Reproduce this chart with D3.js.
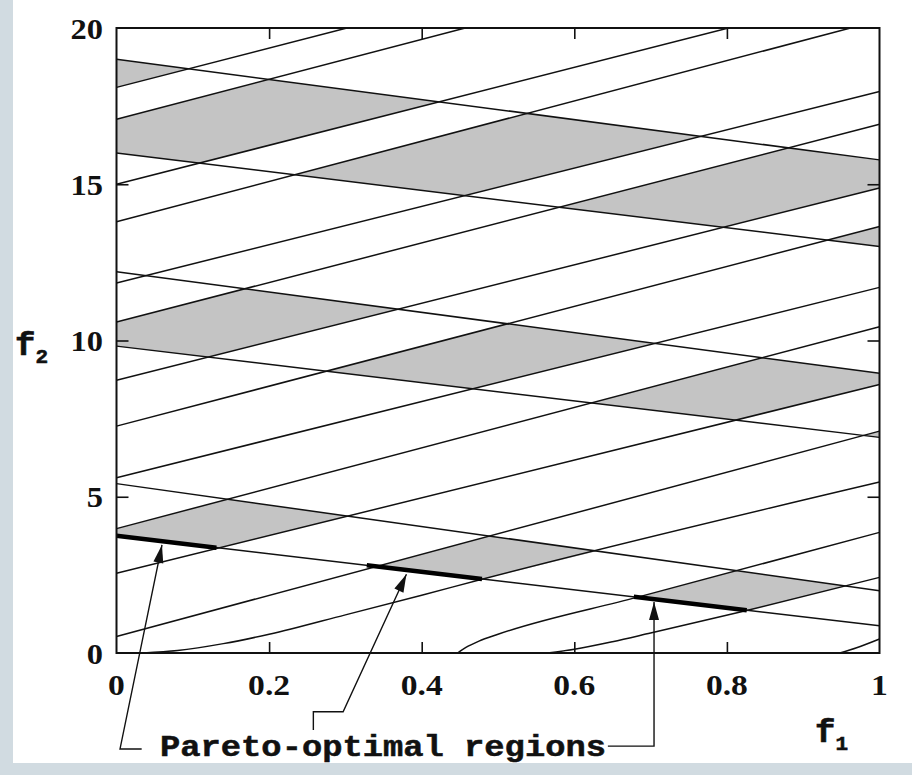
<!DOCTYPE html>
<html>
<head>
<meta charset="utf-8">
<script src="https://cdn.jsdelivr.net/npm/d3@7"></script>
<style>
  html, body { margin: 0; padding: 0; background: #d1dbe1; }
  svg { display: block; }
</style>
</head>
<body>
<svg id="chart" width="912" height="775"></svg>
<script>
// ---------------- data ----------------
const f1TickValues = [0, 0.2, 0.4, 0.6, 0.8, 1];
const f1TickLabels = ["0", "0.2", "0.4", "0.6", "0.8", "1"];
const f2TickValues = [0, 5, 10, 15, 20];
const f2TickLabels = ["0", "5", "10", "15", "20"];

// ascending constraint boundaries, [f1, f2] points
const ascLines = [
  [[0, 18.1], [0.302, 20]],
  [[0, 17.08], [0.457, 20]],
  [[0, 15.0], [0.802, 20]],
  [[0, 13.8], [0.962, 20]],
  [[0, 11.84], [1, 17.97]],
  [[0, 10.59], [1, 16.92]],
  [[0, 8.73], [1, 14.88]],
  [[0, 7.26], [1, 13.65]],
  [[0, 5.61], [1, 11.70]],
  [[0, 3.98], [1, 10.44]],
  [[0, 2.55], [1, 8.59]],
  [[0, 0.53], [1, 7.10]],
  [[0.035, 0], [0.08, 0.08], [0.14, 0.3], [0.2, 0.6], [0.3, 1.22], [0.4, 1.85], [0.479, 2.36], [1, 5.47]],
  [[0.447, 0], [0.458, 0.18], [0.475, 0.38], [0.5, 0.6], [0.682, 1.78], [1, 3.86]],
  [[0.565, 0], [0.6, 0.12], [0.65, 0.36], [0.7, 0.64], [0.826, 1.36], [1, 2.42]],
  [[0.948, 0], [0.97, 0.17], [1, 0.45]]
];

// descending constraint boundaries
const descLines = [
  [[0, 19.0], [1, 15.78]],
  [[0, 16.0], [1, 13.01]],
  [[0, 12.2], [1, 8.95]],
  [[0, 9.82], [1, 6.9]],
  [[0, 5.42], [1, 1.99]],
  [[0, 3.75], [1, 0.87]]
];

// shaded feasible islands: [upper asc, lower asc, upper desc, lower desc] (indices; null = top frame)
const shadedRegions = [
  [null, 0, 0, 1],
  [1, 2, 0, 1],
  [3, 4, 0, 1],
  [5, 6, 0, 1],
  [7, 8, 0, 1],
  [5, 6, 2, 3],
  [7, 8, 2, 3],
  [9, 10, 2, 3],
  [11, 12, 2, 3],
  [9, 10, 4, 5],
  [11, 12, 4, 5],
  [13, 14, 4, 5]
];

// Pareto-optimal segments (on the lowest descending boundary)
const paretoSegments = [
  [[0, 3.75], [0.131, 3.37]],
  [[0.328, 2.806], [0.479, 2.37]],
  [[0.678, 1.797], [0.826, 1.371]]
];

// annotation leader lines, [f1, f2] in chart units (last point = arrow tip)
const arrowPaths = [
  [[0.033, -3.07], [0.0046, -3.07], [0.0596, 3.46]],
  [[0.258, -2.46], [0.258, -1.88], [0.297, -1.88], [0.380, 2.52]],
  [[0.644, -2.98], [0.7045, -2.98], [0.7045, 1.63]]
];
const annotationText = "Pareto-optimal regions";

// ---------------- drawing ----------------
const svg = d3.select("#chart");
const x = d3.scaleLinear().domain([0, 1]).range([116.5, 879.5]);
const y = d3.scaleLinear().domain([0, 20]).range([653, 28]);
const line = d3.line().x(d => x(d[0])).y(d => y(d[1]));
const curve = d3.line().x(d => x(d[0])).y(d => y(d[1])).curve(d3.curveMonotoneX);

// white page area
svg.append("rect").attr("x", 13).attr("y", 0).attr("width", 899).attr("height", 763).attr("fill", "#fff");

const defs = svg.append("defs");
defs.append("clipPath").attr("id", "plotClip")
  .append("rect").attr("x", x(0)).attr("y", y(20)).attr("width", x(1) - x(0)).attr("height", y(0) - y(20));

const topEdge = [[0, 20], [1, 20]];
function bandPath(upper, lower) {
  const pts = upper.concat(lower.slice().reverse());
  return line(pts) + "Z";
}
descLines.forEach((d, i) => {
  if (i % 2 === 0 && descLines[i + 1]) {
    defs.append("clipPath").attr("id", "desc" + i)
      .append("path").attr("d", bandPath(descLines[i], descLines[i + 1]));
  }
});

const plot = svg.append("g").attr("clip-path", "url(#plotClip)");

// shaded regions
shadedRegions.forEach(r => {
  const up = r[0] === null ? topEdge : ascLines[r[0]];
  const lo = ascLines[r[1]];
  plot.append("g").attr("clip-path", `url(#desc${r[2]})`)
    .append("path").attr("d", bandPath(up, lo))
    .attr("fill", "#c4c4c4").attr("stroke", "none");
});

// constraint lines
plot.selectAll("path.asc").data(ascLines).enter().append("path")
  .attr("class", "asc").attr("d", curve)
  .attr("fill", "none").attr("stroke", "#111").attr("stroke-width", 1.5);
plot.selectAll("path.desc").data(descLines).enter().append("path")
  .attr("class", "desc").attr("d", line)
  .attr("fill", "none").attr("stroke", "#111").attr("stroke-width", 1.5);

// Pareto segments
plot.selectAll("path.pareto").data(paretoSegments).enter().append("path")
  .attr("class", "pareto").attr("d", line)
  .attr("fill", "none").attr("stroke", "#000").attr("stroke-width", 4.5);

// frame
svg.append("rect").attr("x", x(0)).attr("y", y(20)).attr("width", x(1) - x(0)).attr("height", y(0) - y(20))
  .attr("fill", "none").attr("stroke", "#111").attr("stroke-width", 2);

// inner ticks with d3 axes
const innerX = f1TickValues.filter(v => v > 0 && v < 1);
const innerY = f2TickValues.filter(v => v > 0 && v < 20);
function styleAxis(g) {
  g.select(".domain").remove();
  g.selectAll("text").remove();
  g.selectAll("line").attr("stroke", "#111").attr("stroke-width", 1.6);
}
svg.append("g").attr("transform", `translate(0,${y(0)})`)
  .call(d3.axisBottom(x).tickValues(innerX).tickSize(-11).tickFormat("")).call(styleAxis);
svg.append("g").attr("transform", `translate(0,${y(20)})`)
  .call(d3.axisTop(x).tickValues(innerX).tickSize(-11).tickFormat("")).call(styleAxis);
svg.append("g").attr("transform", `translate(${x(0)},0)`)
  .call(d3.axisLeft(y).tickValues(innerY).tickSize(-12).tickFormat("")).call(styleAxis);
svg.append("g").attr("transform", `translate(${x(1)},0)`)
  .call(d3.axisRight(y).tickValues(innerY).tickSize(-12).tickFormat("")).call(styleAxis);

// tick labels
const labelFont = "'Liberation Serif', 'Times New Roman', serif";
f1TickValues.forEach((v, i) => {
  svg.append("g").attr("transform", `translate(${x(v)},695) scale(1.12,1)`)
    .append("text").attr("text-anchor", "middle")
    .attr("font-family", labelFont).attr("font-weight", "bold").attr("font-size", 30)
    .attr("fill", "#111").text(f1TickLabels[i]);
});
f2TickValues.forEach((v, i) => {
  svg.append("g").attr("transform", `translate(103,${y(v) + 10.5}) scale(1.08,1)`)
    .append("text").attr("text-anchor", "end")
    .attr("font-family", labelFont).attr("font-weight", "bold").attr("font-size", 30)
    .attr("fill", "#111").text(f2TickLabels[i]);
});

// axis titles ("f" with a subscript)
const monoFont = "'Liberation Mono', 'DejaVu Sans Mono', monospace";
function axisTitle(px, py, sub) {
  const t = svg.append("text").attr("x", px).attr("y", py)
    .attr("font-family", monoFont).attr("font-weight", "bold").attr("fill", "#111")
    .attr("stroke", "#111").attr("stroke-width", 0.6);
  t.append("tspan").attr("font-size", 34).text("f");
  t.append("tspan").attr("font-size", 21).attr("dy", 8).text(sub);
}
axisTitle(15, 355, "2");
axisTitle(815, 742, "1");

// annotation arrows
arrowPaths.forEach(p => {
  svg.append("path").attr("d", line(p)).attr("fill", "none")
    .attr("stroke", "#111").attr("stroke-width", 1.4);
  const tip = p[p.length - 1], prev = p[p.length - 2];
  const tx = x(tip[0]), ty = y(tip[1]);
  const ang = Math.atan2(ty - y(prev[1]), tx - x(prev[0]));
  const L = 18, Wd = 5;
  const bx = tx - L * Math.cos(ang), by = ty - L * Math.sin(ang);
  const nx = -Math.sin(ang) * Wd, ny = Math.cos(ang) * Wd;
  svg.append("path")
    .attr("d", `M${tx},${ty}L${bx + nx},${by + ny}L${bx - nx},${by - ny}Z`)
    .attr("fill", "#111");
});

svg.append("text").attr("x", 160).attr("y", 756)
  .attr("font-family", monoFont).attr("font-weight", "bold").attr("font-size", 29)
  .attr("textLength", 446).attr("lengthAdjust", "spacingAndGlyphs")
  .attr("fill", "#111").attr("stroke", "#111").attr("stroke-width", 0.5)
  .text(annotationText);
</script>
</body>
</html>
